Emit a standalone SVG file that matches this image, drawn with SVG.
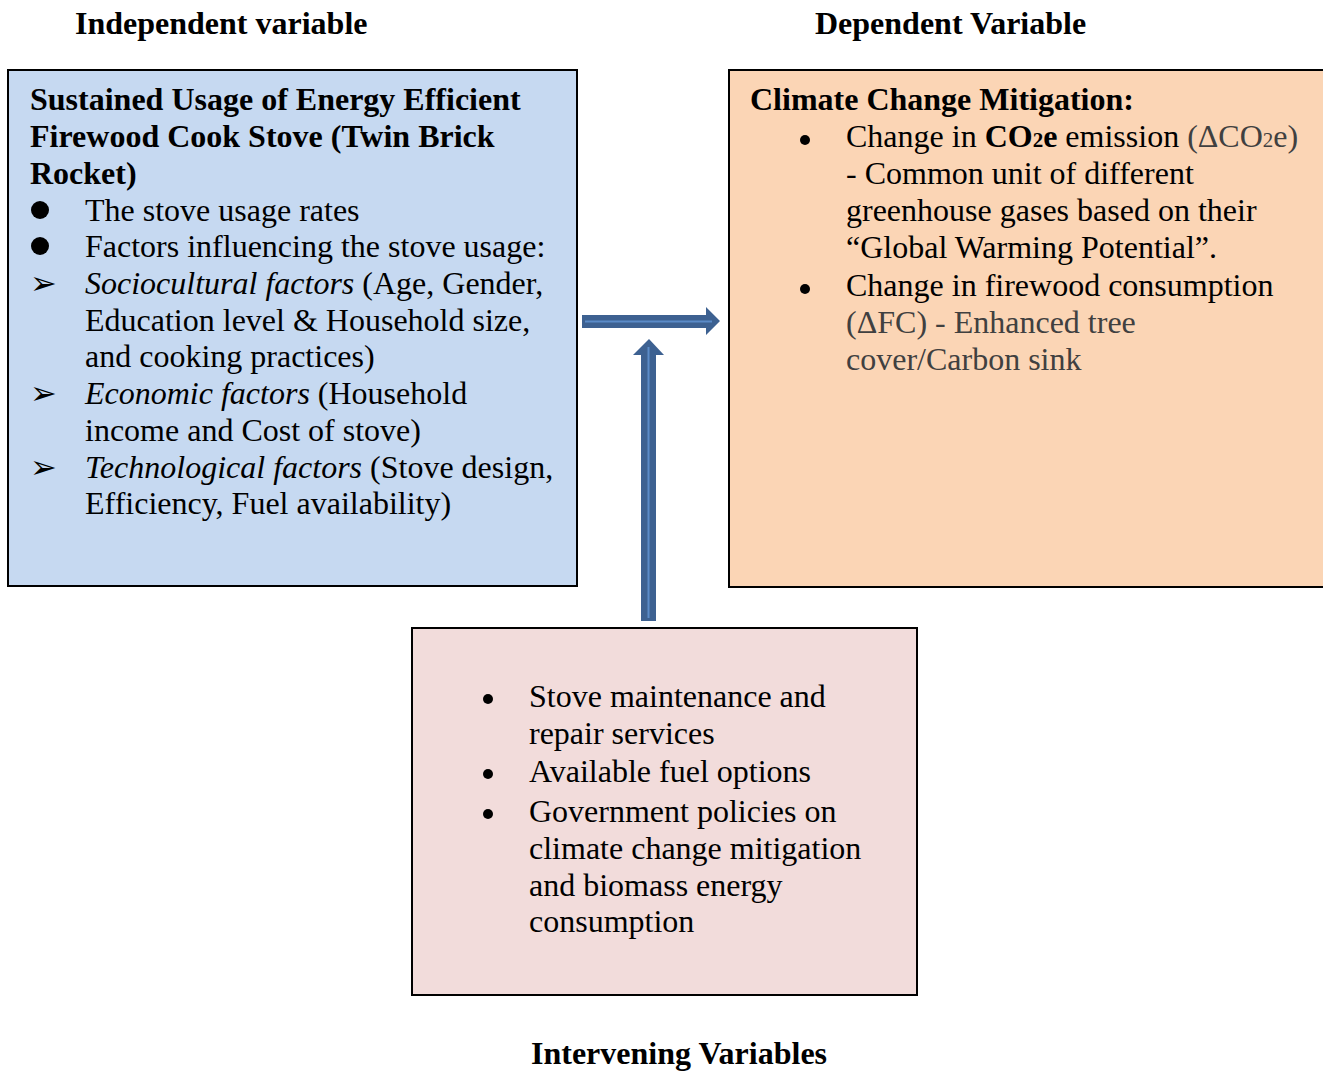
<svg xmlns="http://www.w3.org/2000/svg" width="1323" height="1071" viewBox="0 0 1323 1071">
<style>
text{font-family:"Liberation Serif","Times New Roman",serif;font-size:32px;fill:#000}
.b{font-weight:bold}
.i{font-style:italic}
.g{fill:#404040}
.sub{font-size:21px}
.box{stroke:#000;stroke-width:2}
.arr{fill:#3D6191}
.arrl{stroke:#5B8BC8;stroke-width:2;fill:none}
</style>
<rect width="1323" height="1071" fill="#fff"/>
<g id="label-independent"><text class="b" x="75" y="34">Independent variable</text></g>
<g id="label-dependent"><text class="b" x="815" y="34">Dependent Variable</text></g>
<g id="label-intervening"><text class="b" x="531" y="1064">Intervening Variables</text></g>

<g id="node-independent">
<rect class="box" x="8" y="70" width="569" height="516" fill="#C6D9F1"/>
<text class="b" x="30" y="110">Sustained Usage of Energy Efficient</text>
<text class="b" x="30" y="147">Firewood Cook Stove (Twin Brick</text>
<text class="b" x="30" y="184">Rocket)</text>
<circle cx="40" cy="210" r="9"/>
<text x="85" y="221">The stove usage rates</text>
<circle cx="40" cy="246" r="9"/>
<text x="85" y="257">Factors influencing the stove usage:</text>
<text x="30" y="294">➢</text>
<text x="85" y="294"><tspan class="i">Sociocultural factors</tspan> (Age, Gender,</text>
<text x="85" y="331">Education level &amp; Household size,</text>
<text x="85" y="367">and cooking practices)</text>
<text x="30" y="404">➢</text>
<text x="85" y="404"><tspan class="i">Economic factors</tspan> (Household</text>
<text x="85" y="441">income and Cost of stove)</text>
<text x="30" y="478">➢</text>
<text x="85" y="478"><tspan class="i">Technological factors</tspan> (Stove design,</text>
<text x="85" y="514">Efficiency, Fuel availability)</text>
</g>

<g id="node-dependent">
<rect class="box" x="729" y="70" width="600" height="517" fill="#FBD5B5"/>
<text class="b" x="750" y="110">Climate Change Mitigation:</text>
<circle cx="805" cy="140" r="5"/>
<text x="846" y="147">Change in <tspan class="b">CO</tspan><tspan class="b sub">2</tspan><tspan class="b">e</tspan> emission <tspan class="g">(ΔCO</tspan><tspan class="g sub">2</tspan><tspan class="g">e)</tspan></text>
<text x="846" y="184">- Common unit of different</text>
<text x="846" y="221">greenhouse gases based on their</text>
<text x="846" y="258">“Global Warming Potential”.</text>
<circle cx="805" cy="289" r="5"/>
<text x="846" y="296">Change in firewood consumption</text>
<text class="g" x="846" y="333">(ΔFC) - Enhanced tree</text>
<text class="g" x="846" y="370">cover/Carbon sink</text>
</g>

<g id="node-intervening">
<rect class="box" x="412" y="628" width="505" height="367" fill="#F2DCDB"/>
<circle cx="488" cy="699" r="5"/>
<text x="529" y="707">Stove maintenance and</text>
<text x="529" y="744">repair services</text>
<circle cx="488" cy="774" r="5"/>
<text x="529" y="782">Available fuel options</text>
<circle cx="488" cy="814" r="5"/>
<text x="529" y="822">Government policies on</text>
<text x="529" y="859">climate change mitigation</text>
<text x="529" y="896">and biomass energy</text>
<text x="529" y="932">consumption</text>
</g>

<g id="connectors">
<polygon class="arr" points="582,315 706,315 706,307 720,321 706,335 706,328 582,328"/>
<line class="arrl" x1="585" y1="321.5" x2="712" y2="321.5"/>
<polygon class="arr" points="641,621 641,355 633,355 649,339 664,355 656,355 656,621"/>
<line class="arrl" x1="648.5" y1="618" x2="648.5" y2="347"/>
</g>
</svg>
